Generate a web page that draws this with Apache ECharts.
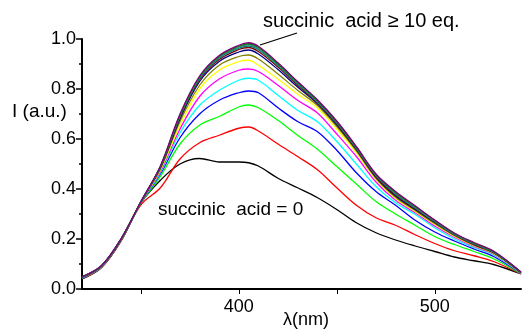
<!DOCTYPE html>
<html>
<head>
<meta charset="utf-8">
<script src="https://cdn.jsdelivr.net/npm/echarts@6/dist/echarts.min.js"></script>
<style>
  html, body { margin: 0; padding: 0; background: #fff; }
  #chart { width: 523px; height: 332px; }
</style>
</head>
<body>
<div id="chart"></div>
<script>
// wavelength grid (nm)
const wavelengths = [320, 330, 340, 350, 360, 370, 380, 390, 400, 405, 410, 420, 430, 440, 450, 460, 470, 480, 490, 500, 510, 520, 530, 544];

// emission intensity per titration step (0 eq -> >=10 eq)
const eq0  = [0.040, 0.086, 0.193, 0.343, 0.435, 0.500, 0.522, 0.508, 0.508, 0.505, 0.492, 0.443, 0.405, 0.366, 0.318, 0.265, 0.225, 0.196, 0.172, 0.150, 0.128, 0.113, 0.098, 0.060];
const eq1  = [0.042, 0.087, 0.194, 0.336, 0.405, 0.520, 0.585, 0.615, 0.643, 0.648, 0.632, 0.580, 0.530, 0.478, 0.405, 0.335, 0.285, 0.255, 0.217, 0.182, 0.153, 0.133, 0.110, 0.060];
const eq2  = [0.043, 0.088, 0.196, 0.342, 0.450, 0.580, 0.655, 0.690, 0.728, 0.736, 0.725, 0.675, 0.615, 0.560, 0.490, 0.420, 0.350, 0.300, 0.255, 0.210, 0.178, 0.150, 0.121, 0.061];
const eq3  = [0.044, 0.089, 0.197, 0.344, 0.460, 0.605, 0.700, 0.755, 0.785, 0.792, 0.785, 0.725, 0.670, 0.630, 0.555, 0.465, 0.390, 0.335, 0.275, 0.228, 0.192, 0.160, 0.130, 0.062];
const eq4  = [0.045, 0.090, 0.198, 0.345, 0.465, 0.625, 0.735, 0.795, 0.835, 0.843, 0.835, 0.775, 0.715, 0.670, 0.590, 0.500, 0.410, 0.345, 0.298, 0.245, 0.200, 0.166, 0.137, 0.062];
const eq5  = [0.045, 0.090, 0.198, 0.345, 0.470, 0.640, 0.770, 0.840, 0.875, 0.880, 0.870, 0.815, 0.755, 0.705, 0.620, 0.530, 0.428, 0.355, 0.305, 0.252, 0.207, 0.170, 0.140, 0.063];
const eq6  = [0.046, 0.091, 0.199, 0.346, 0.475, 0.655, 0.800, 0.875, 0.910, 0.915, 0.895, 0.840, 0.780, 0.725, 0.640, 0.545, 0.438, 0.362, 0.310, 0.258, 0.211, 0.173, 0.142, 0.064];
const eq7  = [0.046, 0.091, 0.199, 0.346, 0.480, 0.670, 0.815, 0.895, 0.930, 0.936, 0.920, 0.860, 0.795, 0.735, 0.650, 0.553, 0.443, 0.367, 0.314, 0.262, 0.214, 0.175, 0.144, 0.065];
const eq8  = [0.047, 0.092, 0.200, 0.347, 0.485, 0.680, 0.830, 0.910, 0.948, 0.956, 0.940, 0.878, 0.808, 0.742, 0.657, 0.558, 0.448, 0.372, 0.318, 0.266, 0.217, 0.178, 0.146, 0.065];
const eq9  = [0.047, 0.092, 0.200, 0.347, 0.487, 0.685, 0.838, 0.918, 0.958, 0.966, 0.950, 0.888, 0.815, 0.746, 0.661, 0.561, 0.451, 0.376, 0.321, 0.268, 0.218, 0.179, 0.147, 0.066];
const eq10 = [0.048, 0.093, 0.201, 0.348, 0.488, 0.690, 0.842, 0.924, 0.963, 0.972, 0.957, 0.893, 0.820, 0.749, 0.664, 0.563, 0.454, 0.380, 0.324, 0.270, 0.219, 0.181, 0.148, 0.066];
const eq11 = [0.048, 0.093, 0.201, 0.348, 0.489, 0.693, 0.845, 0.928, 0.967, 0.977, 0.962, 0.897, 0.824, 0.752, 0.667, 0.565, 0.456, 0.383, 0.327, 0.272, 0.220, 0.182, 0.149, 0.067];
const eq12 = [0.049, 0.094, 0.202, 0.349, 0.490, 0.696, 0.848, 0.931, 0.971, 0.981, 0.967, 0.900, 0.827, 0.755, 0.669, 0.567, 0.458, 0.386, 0.330, 0.274, 0.222, 0.184, 0.150, 0.067];
const eq13 = [0.049, 0.094, 0.202, 0.349, 0.492, 0.700, 0.852, 0.934, 0.975, 0.985, 0.971, 0.905, 0.830, 0.758, 0.672, 0.570, 0.460, 0.390, 0.333, 0.276, 0.224, 0.186, 0.152, 0.068];

const curves = [eq0, eq1, eq2, eq3, eq4, eq5, eq6, eq7, eq8, eq9, eq10, eq11, eq12, eq13];
const colors = ['#000000', '#ff0000', '#00ff00', '#0000ff', '#00ffff', '#ff00ff', '#ffff00',
                '#808000', '#000080', '#800000', '#008080', '#408080', '#008000', '#800080'];

const xTicks = [350, 400, 450, 500];
const xLabels = [400, 500];

const FONT = '"Liberation Sans", Arial, sans-serif';

const chart = echarts.init(document.getElementById('chart'));

const series = curves.map((vals, i) => ({
  type: 'line',
  name: i + ' eq',
  data: wavelengths.map((w, j) => [w, vals[j]]),
  showSymbol: false,
  smooth: 0.35,
  color: colors[i],
  lineStyle: { width: 1.3, color: colors[i] },
  z: 2 + i,
}));

chart.setOption({
  animation: false,
  grid: { left: 82, right: 2, top: 39, bottom: 43 },
  xAxis: {
    type: 'value',
    min: 320,
    max: 544,
    axisLine: { lineStyle: { color: '#000', width: 2 } },
    axisTick: { customValues: xTicks, length: 5, lineStyle: { color: '#000', width: 1 } },
    axisLabel: {
      customValues: xLabels, margin: 9,
      color: '#000', fontFamily: FONT, fontSize: 18,
    },
    splitLine: { show: false },
  },
  yAxis: {
    type: 'value',
    min: 0,
    max: 1,
    interval: 0.2,
    axisLine: { show: true, lineStyle: { color: '#000', width: 2 } },
    axisTick: { show: true, length: 6, lineStyle: { color: '#000', width: 1.5 } },
    minorTick: { show: true, splitNumber: 2, length: 3, lineStyle: { color: '#000', width: 1.5 } },
    axisLabel: {
      margin: 6,
      color: '#000', fontFamily: FONT, fontSize: 18,
      formatter: (v) => v.toFixed(1),
    },
    splitLine: { show: false },
  },
  graphic: [
    { type: 'text', left: 12, top: 102,
      style: { text: 'I (a.u.)', font: '19px ' + FONT, fill: '#000' } },
    { type: 'text', left: 283, top: 311,
      style: { text: 'λ(nm)', font: '18px ' + FONT, fill: '#000' } },
    { type: 'text', left: 263, top: 11,
      style: { text: 'succinic  acid ≥ 10 eq.', font: '20px ' + FONT, fill: '#000' } },
    { type: 'line', shape: { x1: 260, y1: 45, x2: 297, y2: 33 },
      style: { stroke: '#000', lineWidth: 1.3 } },
    { type: 'text', left: 158, top: 200,
      style: { text: 'succinic  acid = 0', font: '19px ' + FONT, fill: '#000' } },
  ],
  series: series,
});
</script>
</body>
</html>
